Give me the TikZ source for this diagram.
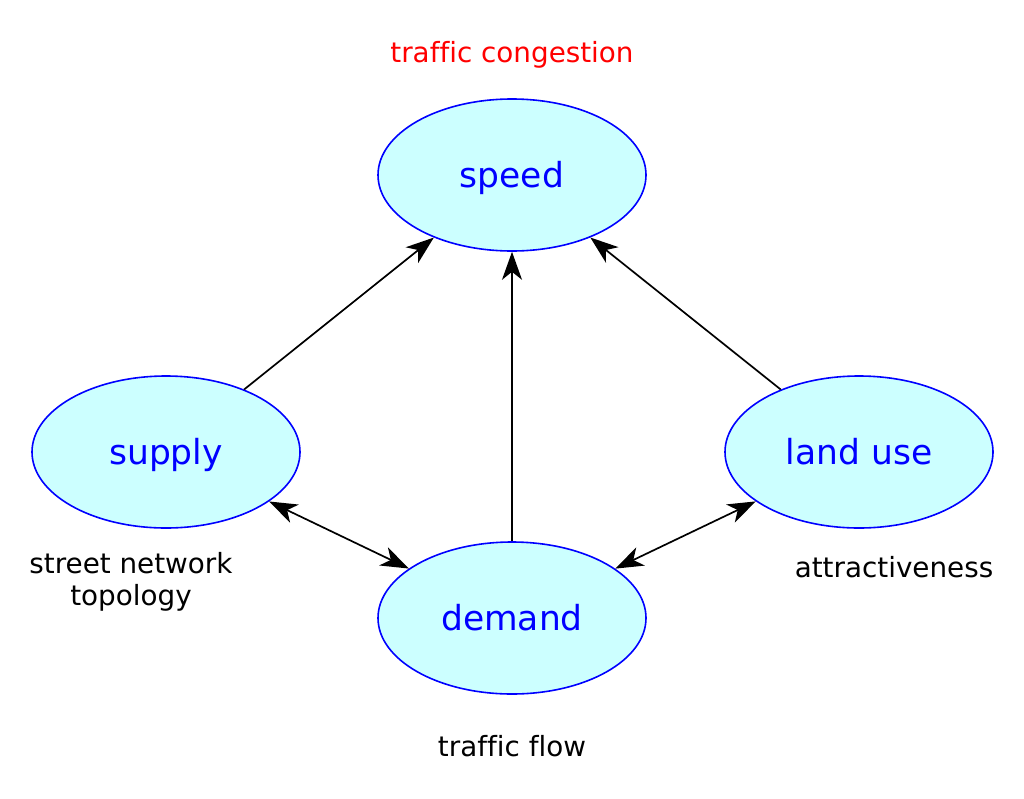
\documentclass[tikz,border=0pt]{standalone}
\usepackage{fontspec}
\setmainfont[Ligatures=NoCommon]{DejaVu Sans}
\usetikzlibrary{shapes.geometric}
\usetikzlibrary{arrows.meta}
\definecolor{cellfill}{HTML}{CCFFFF}
\tikzset{state/.style={ellipse, draw=blue, fill=cellfill, line width=1.6pt, text=blue, inner sep=0pt, minimum width=268pt, minimum height=152pt, font=\fontsize{34.5}{40}\selectfont, text height=31pt, text depth=7pt}}
\tikzset{note/.style={anchor=base, align=center, font=\fontsize{27.8}{32}\selectfont}}
\tikzset{link/.style={line width=1.7pt, -{Stealth[length=28pt,width=20pt,inset=8pt]}}}
\tikzset{twoway/.style={line width=1.7pt, {Stealth[length=28pt,width=20pt,inset=8pt]}-{Stealth[length=28pt,width=20pt,inset=8pt]}}}

\begin{document}
\begin{tikzpicture}[x=1pt,y=-1pt]
	\useasboundingbox (0,0) rectangle (1024,798);
	\node[state] (speed) at (512,175) {speed};
	\node[state] (supply) at (166,452) {supply};
	\node[state] (landuse) at (859,452) {land use};
	\node[state] (demand) at (512,618) {demand};
	\node[note, text=red] (congestion) at (512,62) {traffic congestion};
	\node[note] (topology) at (131,605) {street network\\topology};
	\node[note] (attract) at (894,577) {attractiveness};
	\node[note] (flow) at (512,756) {traffic flow};
	\draw[link] (supply) -- (speed);
	\draw[link] (demand) -- (speed);
	\draw[link] (landuse) -- (speed);
	\draw[twoway] (supply) -- (demand);
	\draw[twoway] (landuse) -- (demand);
\end{tikzpicture}
\end{document}
